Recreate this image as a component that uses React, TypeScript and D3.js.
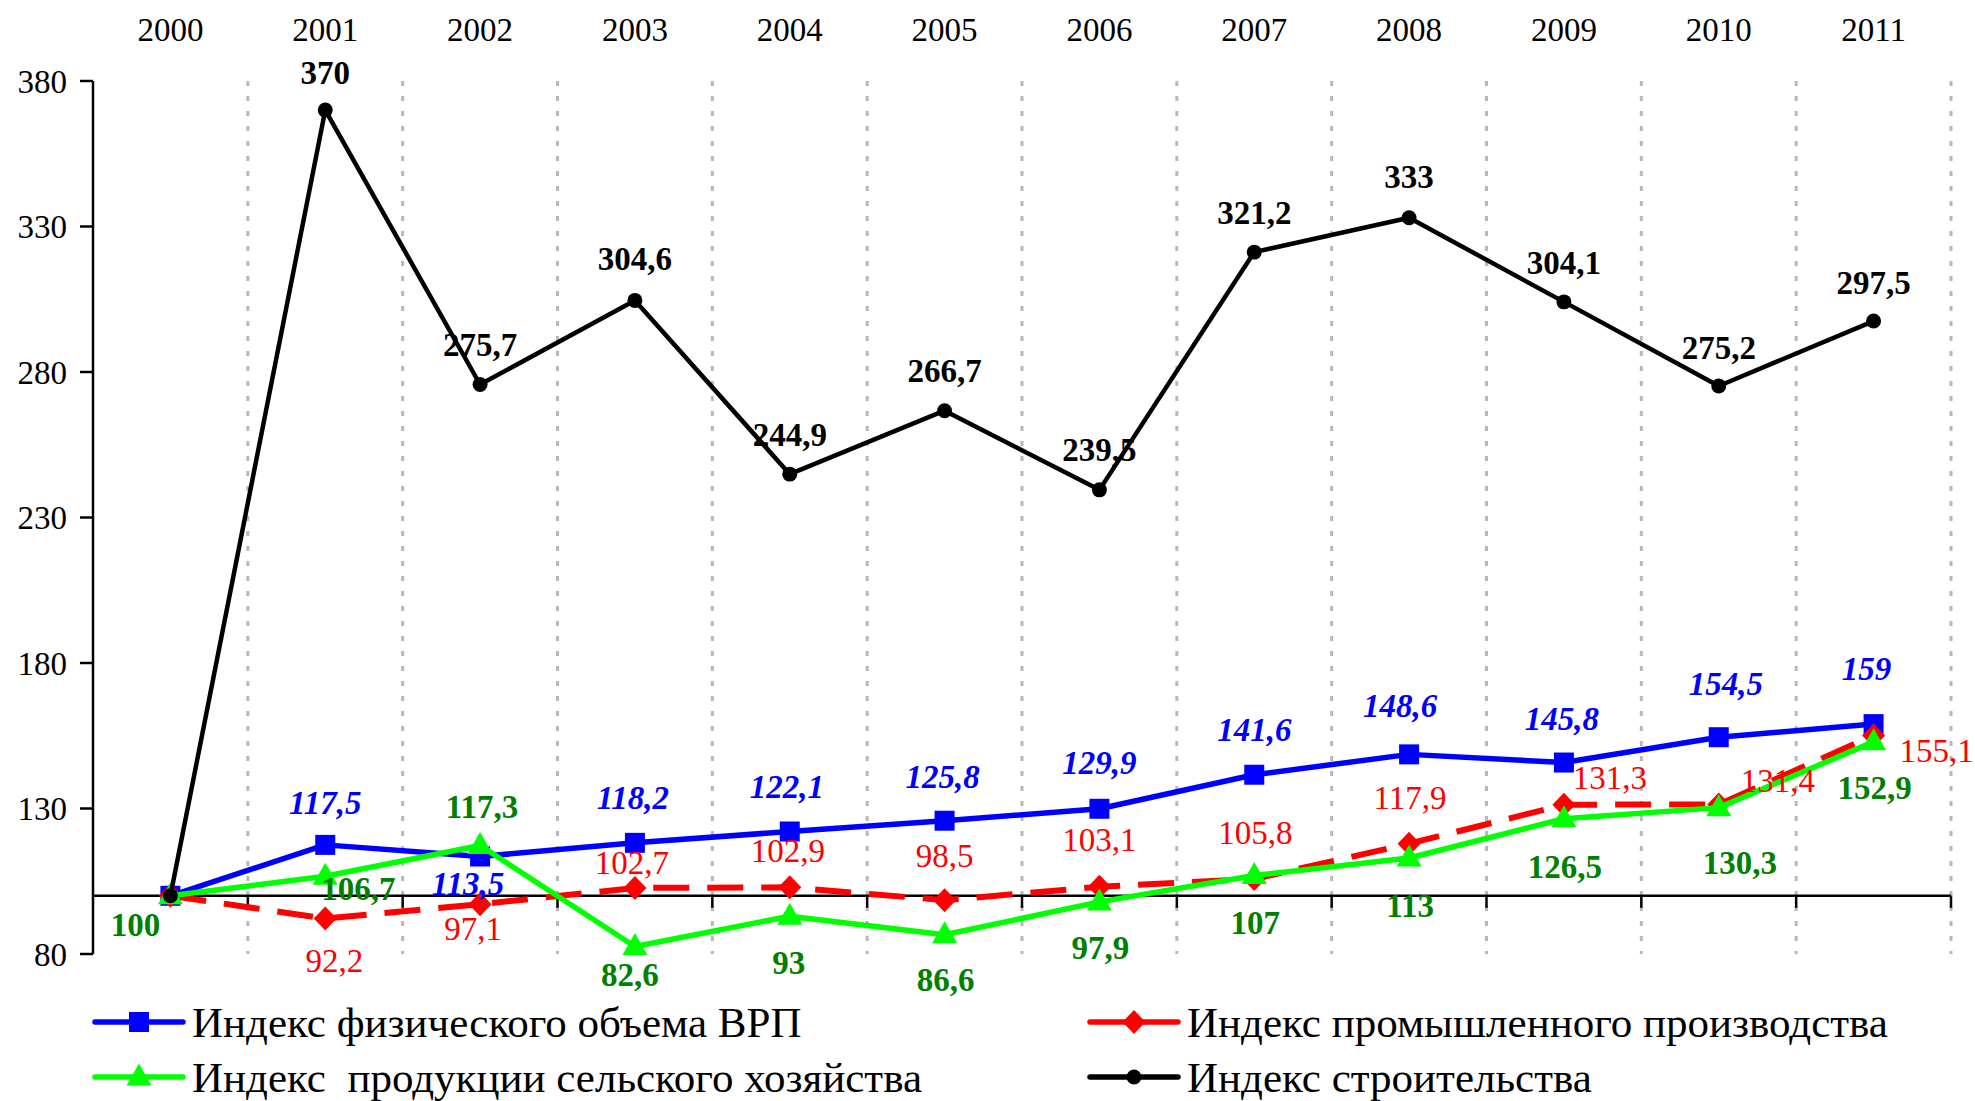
import * as d3 from 'd3'

const years = ['2000', '2001', '2002', '2003', '2004', '2005', '2006', '2007', '2008', '2009', '2010', '2011']
const grpIndex = [100, 117.5, 113.5, 118.2, 122.1, 125.8, 129.9, 141.6, 148.6, 145.8, 154.5, 159]
const industryIndex = [100, 92.2, 97.1, 102.7, 102.9, 98.5, 103.1, 105.8, 117.9, 131.3, 131.4, 155.1]
const agricultureIndex = [100, 106.7, 117.3, 82.6, 93, 86.6, 97.9, 107, 113, 126.5, 130.3, 152.9]
const constructionIndex = [100, 370, 275.7, 304.6, 244.9, 266.7, 239.5, 321.2, 333, 304.1, 275.2, 297.5]
const yTicks = [80, 130, 180, 230, 280, 330, 380]
const seriesNames = [
  'Индекс физического объема ВРП',
  'Индекс промышленного производства',
  'Индекс  продукции сельского хозяйства',
  'Индекс строительства',
]

// label offsets (label centre relative to the point), null = no label
const grpLabelPos = [null, [0, -42], [-12, 27], [-2, -45], [-3, -45], [-2, -44], [0, -46], [0, -45], [-9, -49], [-2, -44], [7, -54], [-7, -56]]
const industryLabelPos = [null, [9, 42], [-7, 24], [-3, -25], [-2, -37], [0, -45], [0, -47], [1, -46], [1, -46], [46, -27], [59, -24], [63, 15]]
const agricultureLabelPos = [[-35, 29], [33, 12], [2, -39], [-5, 28], [-1, 46], [1, 45], [1, 46], [1, 47], [1, 47], [1, 48], [21, 55], [1, 46]]
const constructionLabelPos = [null, [0, -38], [0, -40], [0, -42], [0, -40], [0, -40], [0, -40], [0, -40], [0, -41], [0, -39], [0, -39], [0, -39]]

const W = 1975
const H = 1101
const FONT = "'Liberation Serif', 'Times New Roman', 'DejaVu Serif', serif"

const markers = {
  square: 'M-10,-10H10V10H-10Z',
  diamond: 'M0,-12L11.5,0L0,12L-11.5,0Z',
  triangle: 'M0,-13.5L12.5,8.5L-12.5,8.5Z',
  circle: d3.symbol(d3.symbolCircle, Math.PI * 56)(),
}

const series = [
  { name: seriesNames[0], values: grpIndex, color: '#0000ff', labelColor: '#0000ff', dash: null, marker: markers.square, weight: 'bold', italic: true, pos: grpLabelPos, width: 5.5 },
  { name: seriesNames[1], values: industryIndex, color: '#ff0000', labelColor: '#ff0000', dash: '36,18', marker: markers.diamond, weight: 'normal', italic: false, pos: industryLabelPos, width: 6 },
  { name: seriesNames[2], values: agricultureIndex, color: '#00ff00', labelColor: '#008000', dash: null, marker: markers.triangle, weight: 'bold', italic: false, pos: agricultureLabelPos, width: 5.5 },
  { name: seriesNames[3], values: constructionIndex, color: '#000000', labelColor: '#000000', dash: null, marker: markers.circle, weight: 'bold', italic: false, pos: constructionLabelPos, width: 4.5 },
]

const fmt = (v: number) => String(v).replace('.', ',')

export default function App() {
  const x = d3.scaleBand().domain(years).range([93, 1951]).padding(0)
  const y = d3.scaleLinear().domain([80, 380]).range([954, 81])
  const cx = (yr: string) => (x(yr) as number) + x.bandwidth() / 2
  const boundaries = years.map(yr => (x(yr) as number) + x.bandwidth())
  const line = d3
    .line<number>()
    .x((_, i) => cx(years[i]))
    .y(d => y(d))

  const legendPos = [
    [95, 1022],
    [1090, 1022],
    [95, 1077],
    [1090, 1077],
  ]

  return (
    <div style={{ position: 'absolute', left: 0, top: 0 }}>
      <svg width={W} height={H} viewBox={`0 0 ${W} ${H}`} style={{ display: 'block', background: '#fff', fontFamily: FONT }}>
        {/* grid */}
        {boundaries.map((bx, i) => (
          <line key={i} x1={bx} x2={bx} y1={y(380)} y2={y(80)} stroke="#b8b8b8" strokeWidth={3} strokeDasharray="5,10" />
        ))}

        {/* y axis */}
        <line x1={93} x2={93} y1={y(380)} y2={y(80)} stroke="#000" strokeWidth={2.5} />
        {yTicks.map(t => (
          <g key={t}>
            <line x1={80} x2={93} y1={y(t)} y2={y(t)} stroke="#000" strokeWidth={2.5} />
            <text x={67} y={y(t)} dy="0.35em" textAnchor="end" fontSize={33} style={{ fontFamily: FONT }}>
              {t}
            </text>
          </g>
        ))}

        {/* x axis at 100 */}
        <line x1={93} x2={1951} y1={y(100)} y2={y(100)} stroke="#000" strokeWidth={2.5} />
        {boundaries.map((bx, i) => (
          <line key={i} x1={bx} x2={bx} y1={y(100)} y2={y(100) + 12} stroke="#000" strokeWidth={2.5} />
        ))}
        {years.map(yr => (
          <text key={yr} x={cx(yr)} y={29} dy="0.35em" textAnchor="middle" fontSize={33} style={{ fontFamily: FONT }}>
            {yr}
          </text>
        ))}

        {/* lines */}
        {series.map(s => (
          <g key={s.name}>
            <path d={line(s.values) as string} fill="none" stroke={s.color} strokeWidth={s.width} strokeDasharray={s.dash ?? undefined} strokeLinejoin="round" />
            {s.values.map((v, i) => (
              <path key={i} d={s.marker} transform={`translate(${cx(years[i])},${y(v)})`} fill={s.color} />
            ))}
          </g>
        ))}

        {/* labels */}
        {series.map(s => (
          <g key={s.name + 'l'} fill={s.labelColor} fontSize={33} fontWeight={s.weight} fontStyle={s.italic ? 'italic' : 'normal'}>
            {s.values.map((v, i) => {
              const p = s.pos[i]
              if (!p) return null
              return (
                <text key={i} x={cx(years[i]) + p[0]} y={y(v) + p[1]} dy="0.35em" textAnchor="middle" style={{ fontFamily: FONT }}>
                  {fmt(v)}
                </text>
              )
            })}
          </g>
        ))}

        {/* legend */}
        {series.map((s, i) => {
          const [lx, ly] = legendPos[i]
          return (
            <g key={s.name + 'leg'} transform={`translate(${lx},${ly})`}>
              <line x1={0} x2={88} y1={0} y2={0} stroke={s.color} strokeWidth={5.5} strokeLinecap="round" />
              <path d={s.marker} transform="translate(44,0)" fill={s.color} />
              <text x={97} y={0} dy="0.35em" fontSize={43} style={{ whiteSpace: 'pre', fontFamily: FONT }}>
                {s.name}
              </text>
            </g>
          )
        })}
      </svg>
    </div>
  )
}
